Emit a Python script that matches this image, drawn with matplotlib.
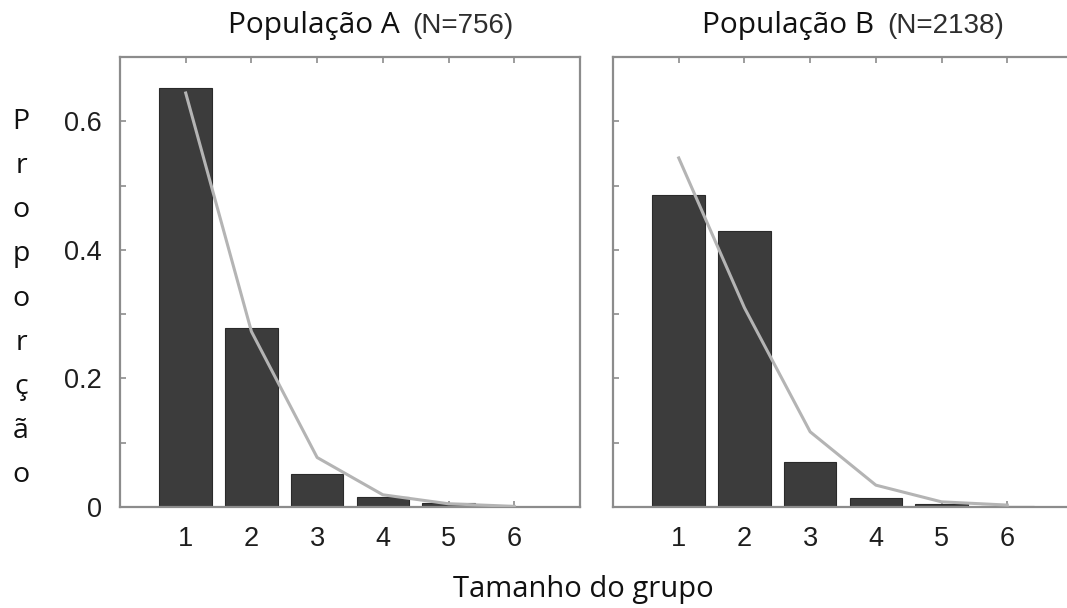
import numpy as np
import matplotlib
matplotlib.use("Agg")
import matplotlib.pyplot as plt

# data
group_sizes = [1, 2, 3, 4, 5, 6]
pop_a_bars = [0.651, 0.278, 0.051, 0.015, 0.006, 0.0]
pop_a_line = [0.644, 0.273, 0.077, 0.019, 0.005, 0.001]
pop_b_bars = [0.486, 0.429, 0.070, 0.0145, 0.004, 0.001]
pop_b_line = [0.543, 0.310, 0.117, 0.034, 0.008, 0.003]

titles = ["População A", "População B"]
n_labels = ["(N=756)", "(N=2138)"]
y_ticks = [0, 0.2, 0.4, 0.6]
y_ticklabels = ["0", "0.2", "0.4", "0.6"]
x_label = "Tamanho do grupo"
y_label = "Proporção"

W, H = 1067, 608
SPINE = "#8c8c8c"
BAR = "#3c3c3c"
LINE = "#b4b4b4"
TEXT_FONT = "Open Sans"
TICK_FONT = "Liberation Sans"


def px(x, y):
    """pixel position (from top-left) -> figure fraction"""
    return x / W, 1 - y / H


def style_axes(ax, show_ylabels):
    ax.set_xlim(0, 7)
    ax.set_ylim(0, 0.70)
    ax.set_xticks(group_sizes)
    # major ticks every 0.1, only the even ones get a label
    ax.set_yticks(np.arange(0, 0.65, 0.1))
    if show_ylabels:
        labels = dict(zip(y_ticks, y_ticklabels))
        ax.set_yticklabels([labels.get(round(v, 1), "") for v in np.arange(0, 0.65, 0.1)])
    else:
        ax.set_yticklabels([])
    for s in ax.spines.values():
        s.set_color(SPINE)
        s.set_linewidth(1.6)
    ax.tick_params(axis="both", direction="in", length=4, width=1.2,
                   color=SPINE, labelsize=19.5, labelcolor="#1e1e1e")
    ax.tick_params(axis="x", top=True, pad=14)
    ax.tick_params(axis="y", pad=13)
    for lab in ax.get_xticklabels() + ax.get_yticklabels():
        lab.set_family(TICK_FONT)


fig = plt.figure(figsize=(W / 100, H / 100), dpi=100)
ax_a = fig.add_axes([120 / W, 1 - 507 / H, 460 / W, 450 / H])
# right panel runs past the right edge of the picture, as in the original
ax_b = fig.add_axes([613 / W, 1 - 507 / H, 460 / W, 450 / H])

for ax, bars, line, show in [(ax_a, pop_a_bars, pop_a_line, True),
                             (ax_b, pop_b_bars, pop_b_line, False)]:
    ax.bar(group_sizes, bars, width=0.8, color=BAR, edgecolor="#2a2a2a",
           linewidth=0.8, zorder=2)
    ax.plot(group_sizes, line, color=LINE, linewidth=2.2, zorder=3)
    style_axes(ax, show)

# titles: big humanist text followed by smaller (N=...) in sans
fig.canvas.draw()
renderer = fig.canvas.get_renderer()
for title, nlab, x0 in zip(titles, n_labels, [228, 702]):
    t = fig.text(*px(x0, 33), title, family=TEXT_FONT, fontsize=21.5,
                 ha="left", va="baseline", color="#111111")
    bb = t.get_window_extent(renderer)
    fig.text((bb.x1 + 13) / W, 1 - 33 / H, nlab, family=TICK_FONT,
             fontsize=20, ha="left", va="baseline", color="#2e2e2e")

# stacked vertical y label
letters = list(y_label)
ys = np.linspace(122, 475, len(letters))
for ch, yy in zip(letters, ys):
    fig.text(*px(21, yy), ch, family=TEXT_FONT, fontsize=20.5,
             ha="center", va="center", color="#111111")

fig.text(*px(583, 597), x_label, family=TEXT_FONT, fontsize=21,
         ha="center", va="baseline", color="#111111")

fig.savefig("out.png", dpi=100)
